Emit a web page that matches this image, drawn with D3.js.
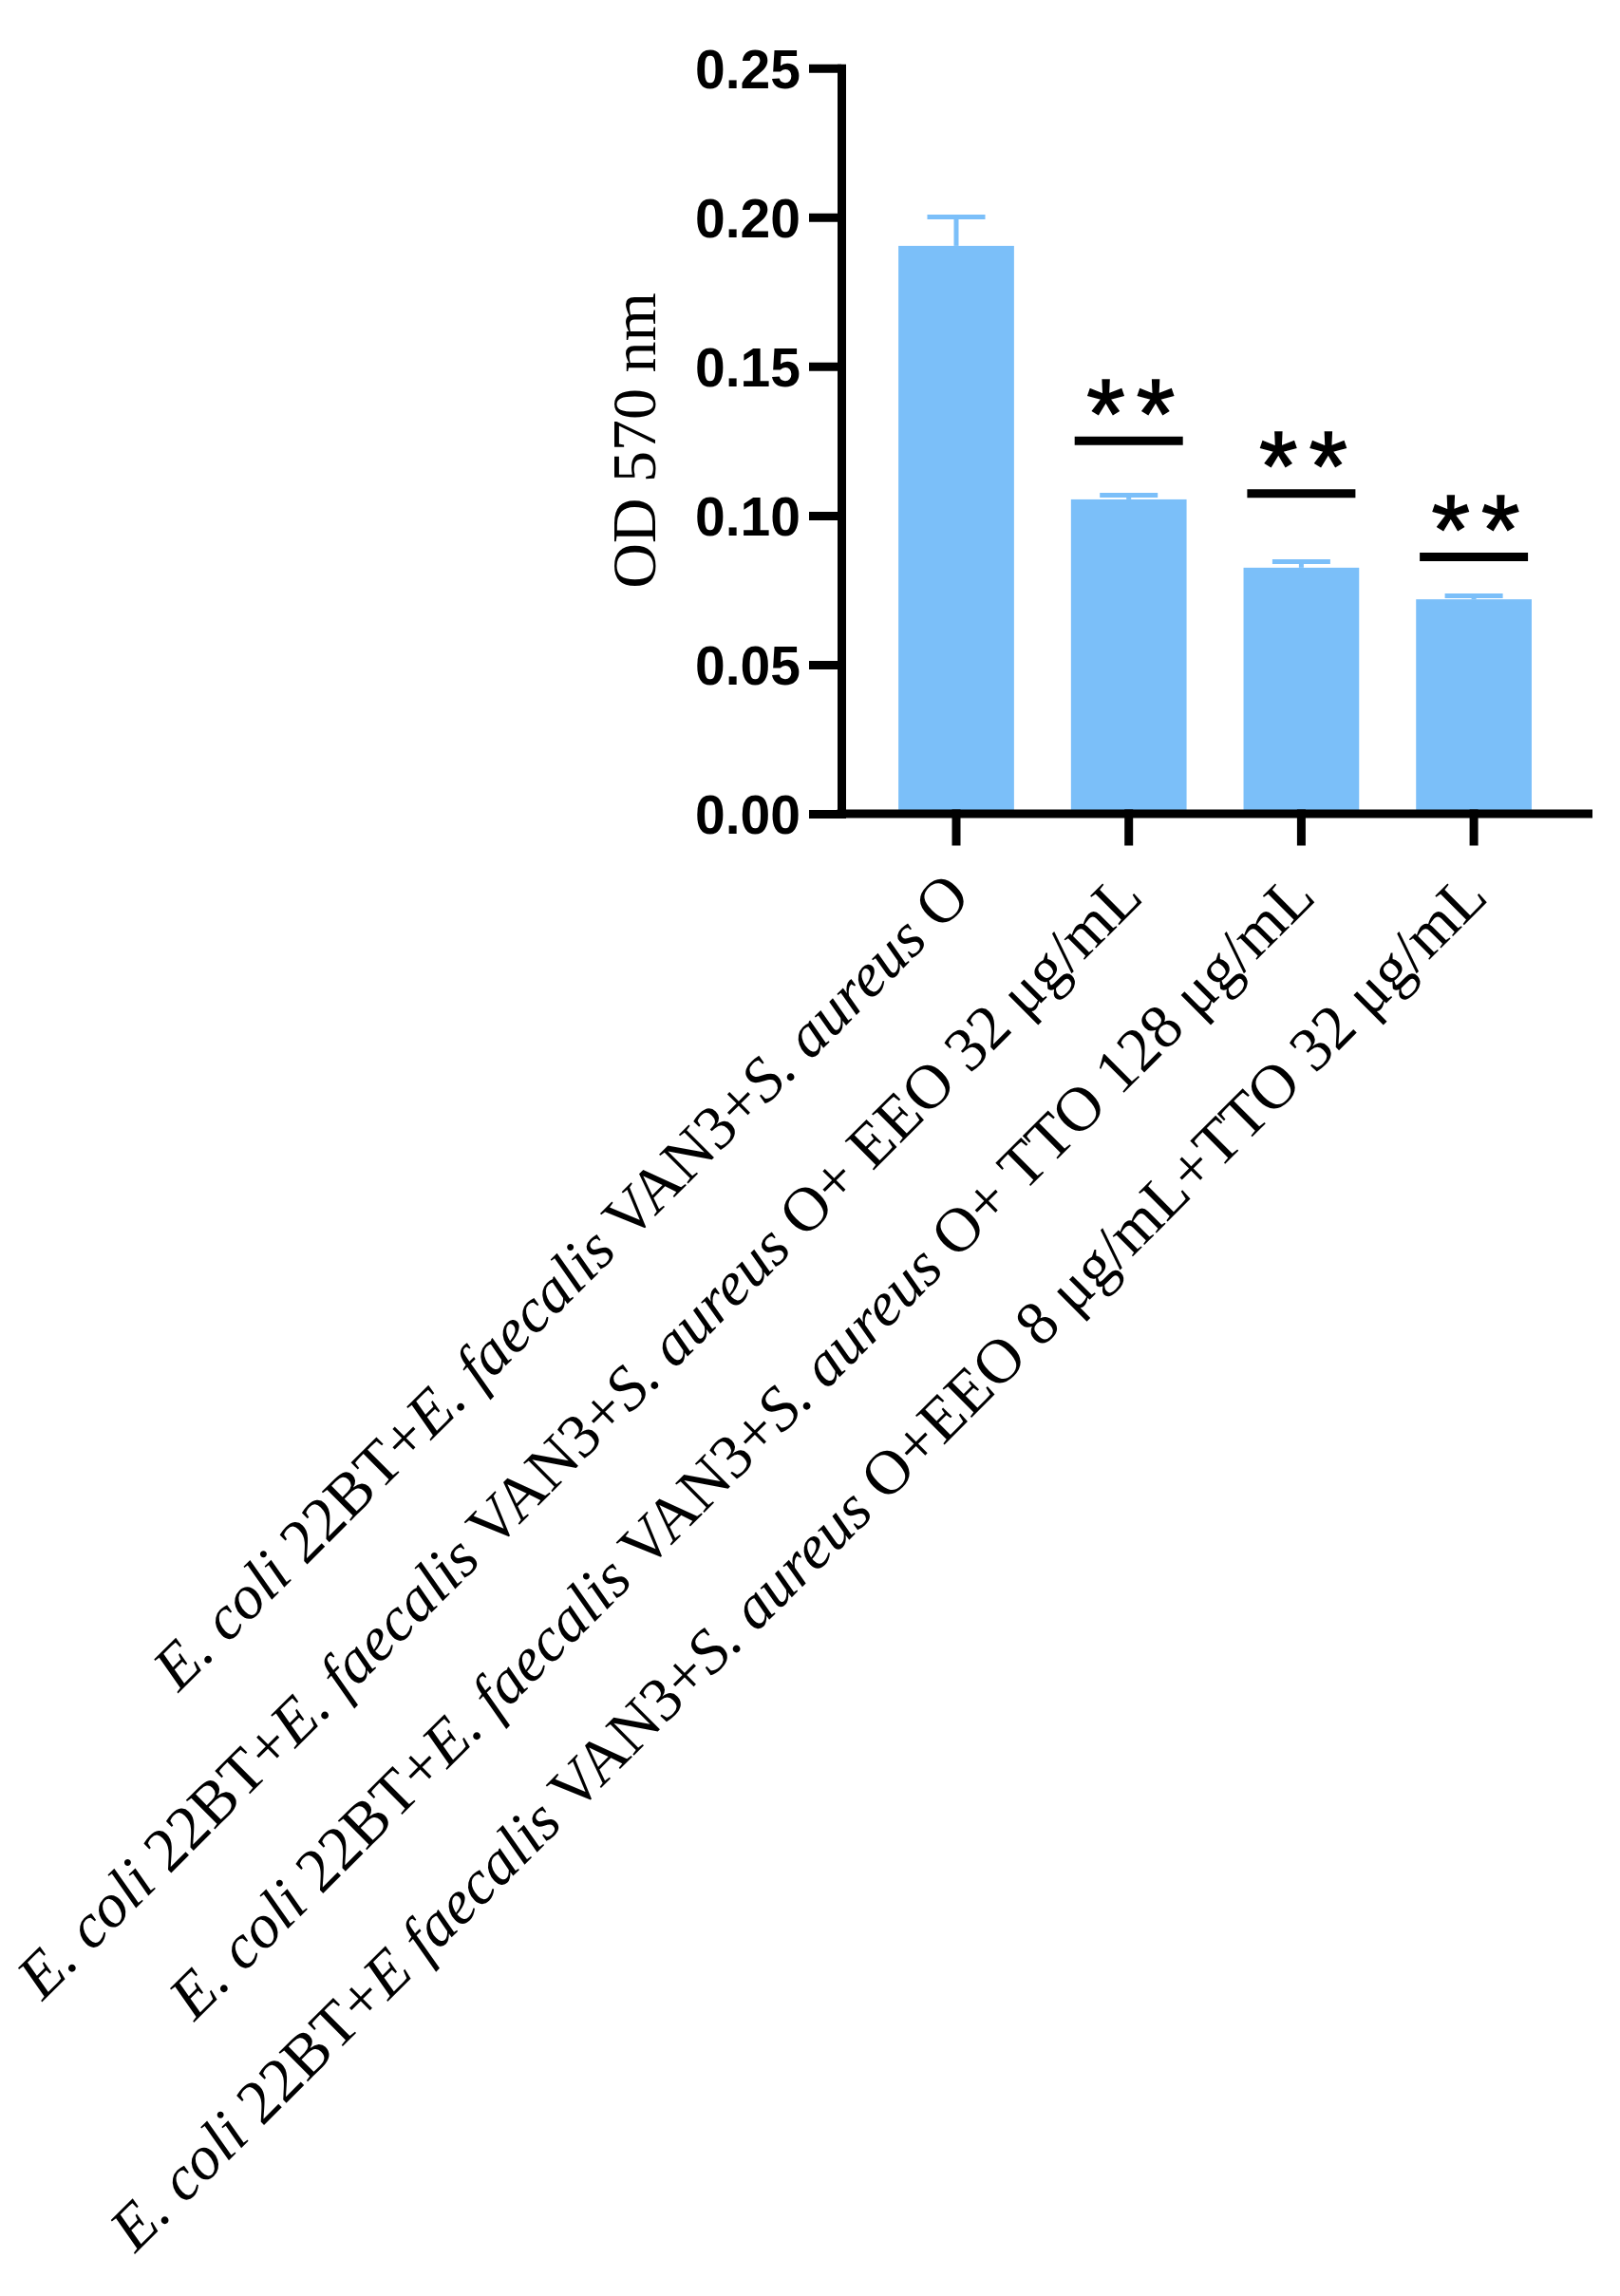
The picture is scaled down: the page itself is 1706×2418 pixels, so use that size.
<!DOCTYPE html>
<html lang="en">

    <head>
        <meta charset="UTF-8">
        <script src="https://d3js.org/d3.v7.min.js"></script>
        <title>OD 570 nm bar chart</title>
        <style>
            body { margin: 0; background: #fff; }
        </style>
    </head>

    <body>
        <svg id="my_dataviz" width="1706" height="2418"></svg>

        <script>

            // Data
            var categories = [
                "E. coli 22BT+E. faecalis VAN3+S. aureus O",
                "E. coli 22BT+E. faecalis VAN3+S. aureus O+ EEO 32 μg/mL",
                "E. coli 22BT+E. faecalis VAN3+S. aureus O+ TTO 128 μg/mL",
                "E. coli 22BT+E faecalis VAN3+S. aureus O+EEO 8 μg/mL+TTO 32 μg/mL"
            ];
            var means = [0.1904, 0.1054, 0.0825, 0.0719];
            var errors = [0.0097, 0.0014, 0.0020, 0.0012];
            // significance bar height (null = none) and its label
            var sigLevels = [null, 0.125, 0.1074, 0.0861];
            var sigLabels = ["", "**", "**", "**"];
            var yTicks = [0, 0.05, 0.10, 0.15, 0.20, 0.25];
            var italicTerms = ["E. coli", "E. faecalis", "E faecalis", "S. aureus"];

            var barColor = "#7bbff9";

            var svg = d3.select("svg");

            // Scales
            var y = d3.scaleLinear()
                .domain([0, 0.25])
                .range([857, 71.7]);

            var x = d3.scaleBand()
                .domain(categories)
                .range([916.15, 1642.95])
                .paddingInner(0.33)
                .paddingOuter(0.165);

            // Bars
            svg.append("g")
                .selectAll("rect")
                .data(categories)
                .enter()
                .append("rect")
                    .attr("x", function(d) { return x(d); })
                    .attr("y", function(d, i) { return y(means[i]); })
                    .attr("width", x.bandwidth())
                    .attr("height", function(d, i) { return y(0) - y(means[i]); })
                    .attr("fill", barColor);

            // Error bars (upper only)
            var err = svg.append("g")
                .attr("stroke", barColor)
                .attr("stroke-width", 5);

            categories.forEach(function(d, i) {
                var cx = x(d) + x.bandwidth() / 2;
                err.append("line")
                    .attr("x1", cx).attr("x2", cx)
                    .attr("y1", y(means[i])).attr("y2", y(means[i] + errors[i]));
                err.append("line")
                    .attr("x1", cx - 30.5).attr("x2", cx + 30.5)
                    .attr("y1", y(means[i] + errors[i])).attr("y2", y(means[i] + errors[i]));
            });

            // Significance markers
            var starSize = 104, starGap = 12;
            var sig = svg.append("g");
            categories.forEach(function(d, i) {
                if (sigLevels[i] === null) return;
                var cx = x(d) + x.bandwidth() / 2;
                sig.append("line")
                    .attr("x1", cx - 57).attr("x2", cx + 57)
                    .attr("y1", y(sigLevels[i])).attr("y2", y(sigLevels[i]))
                    .attr("stroke", "#000")
                    .attr("stroke-width", 9);
                sig.append("text")
                    .attr("x", cx + 2 + starGap / 2)
                    .attr("y", y(sigLevels[i]) - 52.5 + 0.575 * starSize)
                    .attr("text-anchor", "middle")
                    .attr("font-family", "Liberation Sans, Arial, sans-serif")
                    .attr("font-size", starSize)
                    .attr("letter-spacing", starGap)
                    .attr("stroke", "#000")
                    .attr("stroke-width", 1.5)
                    .text(sigLabels[i]);
            });

            // Y axis
            var yAxis = svg.append("g")
                .attr("transform", "translate(886,0)")
                .call(d3.axisLeft(y)
                    .tickValues(yTicks)
                    .tickSize(34)
                    .tickSizeOuter(0)
                    .tickPadding(9)
                    .tickFormat(d3.format(".2f")));

            yAxis.select(".domain")
                .attr("stroke-width", 9)
                .attr("stroke-linecap", "square");
            yAxis.selectAll(".tick line").attr("stroke-width", 9);
            yAxis.selectAll(".tick text")
                .attr("font-family", "Liberation Sans, Arial, sans-serif")
                .attr("font-weight", "bold")
                .attr("font-size", 57)
                .attr("fill", "#000")
                .attr("dy", "0.36em");

            // X axis line
            svg.append("line")
                .attr("x1", 886).attr("x2", 1672.5)
                .attr("y1", y(0)).attr("y2", y(0))
                .attr("stroke", "#000")
                .attr("stroke-width", 9)
                .attr("stroke-linecap", "square");

            var xAxis = svg.append("g")
                .attr("transform", "translate(0," + y(0) + ")")
                .call(d3.axisBottom(x).tickSize(29).tickSizeOuter(0).tickFormat(""));
            xAxis.select(".domain").remove();
            xAxis.selectAll(".tick line")
                .attr("stroke-width", 9)
                .attr("stroke-linecap", "square");

            // Rotated category labels with italic species names
            var italicRe = new RegExp("(" + italicTerms.map(function(t) {
                return t.replace(/\./g, "\\.");
            }).join("|") + ")");

            categories.forEach(function(d) {
                var cx = x(d) + x.bandwidth() / 2;
                var t = svg.append("text")
                    .attr("transform", "translate(" + (cx + 17) + ",947) rotate(-45)")
                    .attr("text-anchor", "end")
                    .attr("font-family", "'Liberation Serif', 'Times New Roman', serif")
                    .attr("font-size", 66);
                d.split(italicRe).forEach(function(part) {
                    if (part === "") return;
                    t.append("tspan")
                        .attr("font-style", italicTerms.indexOf(part) >= 0 ? "italic" : "normal")
                        .text(part);
                });
            });

            // Y axis title
            svg.append("text")
                .attr("transform", "translate(690,464) rotate(-90)")
                .attr("text-anchor", "middle")
                .attr("font-family", "'Liberation Serif', 'Times New Roman', serif")
                .attr("font-size", 66)
                .text("OD 570 nm");

        </script>
    </body>

</html>
